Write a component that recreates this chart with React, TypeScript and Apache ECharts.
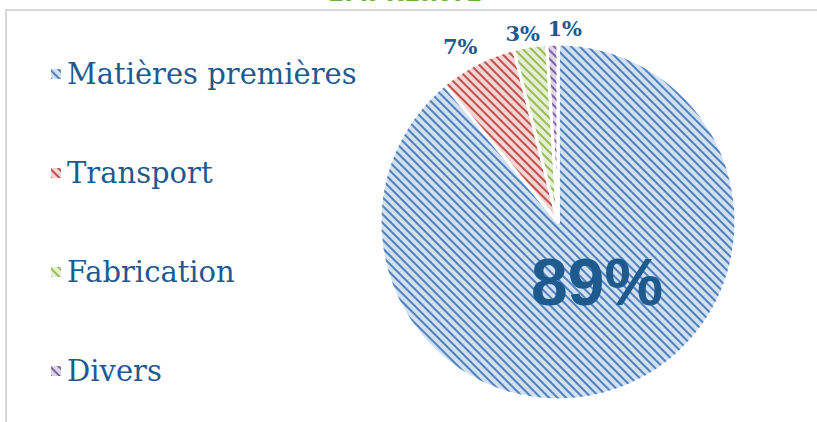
import React, { useEffect, useRef } from "react";
import * as echarts from "echarts";

const categories = ["Matières premières", "Transport", "Fabrication", "Divers"];
const values = [89, 7, 3, 1];
const fills = ["#D2E0F2", "#F3D5D4", "#E5EFD5", "#DDD5E9"];
const stripes = ["#4F81BD", "#C0504D", "#9BBB59", "#8064A2"];
const titleText = "EMPREINTE";

const textBlue = "#1F5A8F";

export default function App() {
  const ref = useRef<HTMLDivElement>(null);
  useEffect(() => {
    if (!ref.current) return;
    const chart = echarts.init(ref.current, undefined, { renderer: "svg" });
    const data = categories.map((name, i) => ({
      name,
      value: values[i],
      itemStyle: {
        color: fills[i],
        decal: {
          symbol: "rect",
          symbolSize: 1,
          dashArrayX: [1, 0],
          dashArrayY: [1.2, 3.2],
          rotation: Math.PI / 4,
          color: stripes[i],
        },
      },
      label:
        i === 0
          ? {
              position: "inside",
              fontSize: 66,
              fontWeight: "bold",
              fontFamily: "Liberation Sans",
              color: textBlue,
              offset: [8, -27],
            }
          : undefined,
    }));
    const nudges: Record<number, { dx: number; dy: number }> = {
      1: { dx: -2, dy: 3 },
      2: { dx: 1, dy: 9 },
      3: { dx: 18, dy: 6 },
    };
    chart.setOption({
      animation: false,
      legend: {
        orient: "vertical",
        left: 44,
        top: 52,
        itemWidth: 12,
        itemHeight: 12,
        itemGap: 65,
        icon: "rect",
        textStyle: {
          fontFamily: "DejaVu Serif",
          fontSize: 29,
          color: textBlue,
          lineHeight: 34,
        },
        data: categories,
      },
      graphic: [
        {
          type: "text",
          x: 405,
          y: 5,
          style: {
            text: titleText,
            fontSize: 24,
            fontWeight: "bold",
            fontFamily: "DejaVu Sans",
            fill: "#6DB33F",
            textAlign: "center",
            textVerticalAlign: "bottom",
          },
        },
        {
          type: "line",
          shape: { x1: 5, y1: 10, x2: 817, y2: 10 },
          style: { stroke: "#D9D9D9", lineWidth: 2 },
        },
        {
          type: "line",
          shape: { x1: 6, y1: 10, x2: 6, y2: 422 },
          style: { stroke: "#D9D9D9", lineWidth: 2 },
        },
      ],
      series: [
        {
          type: "pie",
          center: [558, 222],
          radius: 178,
          startAngle: 90,
          clockwise: true,
          avoidLabelOverlap: false,
          data,
          itemStyle: { borderColor: "#ffffff", borderWidth: 3 },
          label: {
            show: true,
            position: "outside",
            formatter: "{c}%",
            fontFamily: "DejaVu Serif",
            fontWeight: "bold",
            fontSize: 21,
            color: textBlue,
          },
          labelLine: { show: false, length: 22, length2: 0 },
          labelLayout: (params: any) =>
            params.dataIndex === 0
              ? { hideOverlap: false }
              : {
                  align: "center",
                  verticalAlign: "middle",
                  hideOverlap: false,
                  dx: nudges[params.dataIndex].dx,
                  dy: nudges[params.dataIndex].dy,
                },
          emphasis: { disabled: true },
        },
      ],
    });
    return () => chart.dispose();
  }, []);
  return (
    <div
      ref={ref}
      style={{ position: "absolute", left: 0, top: 0, width: 817, height: 422 }}
    />
  );
}
